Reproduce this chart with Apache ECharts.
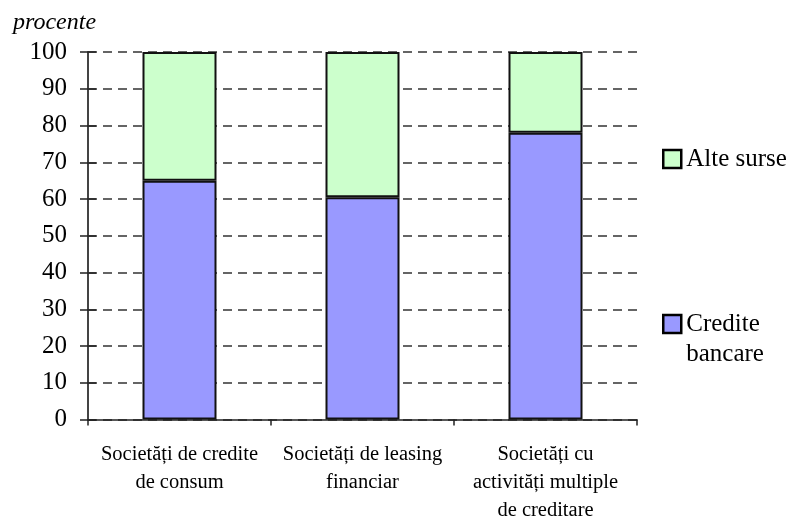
<!DOCTYPE html>
<html>
<head>
<meta charset="utf-8">
<script src="https://cdn.jsdelivr.net/npm/echarts@6/dist/echarts.min.js"></script>
<style>
  html, body { margin: 0; padding: 0; background: #fff; }
  #chart { width: 794px; height: 518px; }
</style>
</head>
<body>
<div id="chart"></div>
<script>
// Structure of funding sources for non-bank financial institutions (%)
var categories = [
  'Societăți de credite\nde consum',
  'Societăți de leasing\nfinanciar',
  'Societăți cu\nactivități multiple\nde creditare'
];
var crediteBancare = [65, 60.5, 78];
var alteSurse = [35, 39.5, 22];
var yTicks = [0, 10, 20, 30, 40, 50, 60, 70, 80, 90, 100];

var serif = '"Liberation Serif", "Times New Roman", serif';

var chart = echarts.init(document.getElementById('chart'), null, { renderer: 'canvas' });

var option = {
  animation: false,
  backgroundColor: '#ffffff',
  title: {
    text: 'procente',
    left: 8,
    top: 6,
    textStyle: { fontFamily: serif, fontStyle: 'italic', fontWeight: 'normal', fontSize: 24, letterSpacing: 2.4, color: '#000' }
  },
  grid: { left: 88, right: 157, top: 52, bottom: 98.5, containLabel: false, outerBoundsMode: 'none' },
  legend: [
    {
      data: ['Alte surse'],
      orient: 'vertical',
      left: 657,
      top: 139,
      icon: 'rect',
      itemWidth: 18,
      itemHeight: 18,
      itemStyle: { borderColor: '#000', borderWidth: 2.5 },
      textStyle: { fontFamily: serif, fontSize: 25, lineHeight: 30, color: '#000' }
    },
    {
      data: ['Credite bancare'],
      orient: 'vertical',
      left: 657,
      top: 274,
      icon: 'rect',
      itemWidth: 18,
      itemHeight: 18,
      itemStyle: { borderColor: '#000', borderWidth: 2.5 },
      // leading blank line keeps the marker level with the first line
      formatter: function () { return '\nCredite\nbancare'; },
      textStyle: { fontFamily: serif, fontSize: 25, color: '#000', lineHeight: 30 }
    }
  ],
  xAxis: {
    type: 'category',
    data: categories,
    boundaryGap: true,
    axisLine: { show: true, lineStyle: { color: '#222', width: 1.5 } },
    axisTick: { show: true, inside: false, length: 6, alignWithLabel: false, lineStyle: { color: '#222', width: 1.5 } },
    axisLabel: {
      interval: 0,
      margin: 21,
      fontFamily: serif,
      fontSize: 20.5,
      lineHeight: 28,
      color: '#000'
    },
    splitLine: { show: false }
  },
  yAxis: [
    {
      type: 'value',
      min: 0,
      max: 100,
      interval: 10,
      axisLine: { show: true, onZero: false, lineStyle: { color: '#444', width: 2 } },
      axisTick: { show: true, inside: false, length: 8, lineStyle: { color: '#222', width: 1.5 } },
      axisLabel: {
        margin: 21,
        fontFamily: serif,
        fontSize: 25,
        color: '#000',
        formatter: function (v) { return yTicks.indexOf(v) >= 0 ? String(v) : ''; }
      },
      splitLine: { show: true, lineStyle: { color: '#333', width: 1.5, type: [9, 6] } }
    },
    {
      // mirrors the value axis to draw the inner half of each tick
      type: 'value',
      position: 'left',
      min: 0,
      max: 100,
      interval: 10,
      axisLine: { show: false },
      axisTick: { show: true, inside: true, length: 8, lineStyle: { color: '#222', width: 1.5 } },
      axisLabel: { show: false },
      splitLine: { show: false }
    }
  ],
  series: [
    {
      name: 'Credite bancare',
      type: 'bar',
      stack: 'total',
      data: crediteBancare,
      barWidth: 74,
      itemStyle: { color: '#9999ff', borderColor: '#111', borderWidth: 2 }
    },
    {
      name: 'Alte surse',
      type: 'bar',
      stack: 'total',
      data: alteSurse,
      barWidth: 74,
      itemStyle: { color: '#ccffcc', borderColor: '#111', borderWidth: 2 }
    }
  ]
};

chart.setOption(option);
</script>
</body>
</html>
